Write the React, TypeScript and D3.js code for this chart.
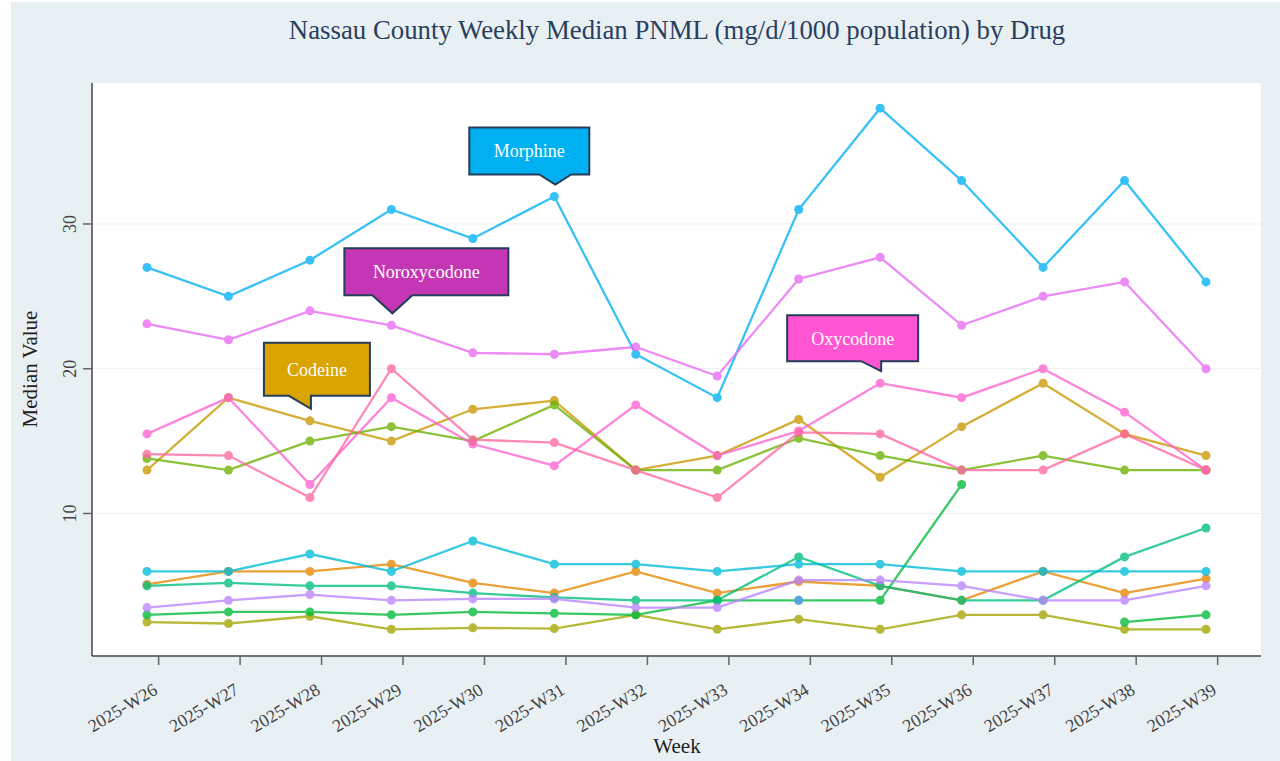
import * as d3 from "d3";

// weeks on the x axis
const WEEKS = [
  "2025-W26", "2025-W27", "2025-W28", "2025-W29", "2025-W30", "2025-W31", "2025-W32",
  "2025-W33", "2025-W34", "2025-W35", "2025-W36", "2025-W37", "2025-W38", "2025-W39",
];

// median PNML per drug, one value per week (null = no sample)
const morphine = [27, 25, 27.5, 31, 29, 31.9, 21, 18, 31, 38, 33, 27, 33, 26];
const noroxycodone = [23.1, 22, 24, 23, 21.1, 21, 21.5, 19.5, 26.2, 27.7, 23, 25, 26, 20];
const oxycodone = [15.5, 18, 12, 18, 14.8, 13.3, 17.5, 14, 15.7, 19, 18, 20, 17, 13];
const oxymorphone = [14.1, 14, 11.1, 20, 15.1, 14.9, 13, 11.1, 15.6, 15.5, 13, 13, 15.5, 13];
const codeine = [13, 18, 16.4, 15, 17.2, 17.8, 13, 14, 16.5, 12.5, 16, 19, 15.5, 14];
const hydrocodone = [13.8, 13, 15, 16, 15, 17.5, 13, 13, 15.2, 14, 13, 14, 13, 13];
const tramadol = [6, 6, 7.2, 6, 8.1, 6.5, 6.5, 6, 6.5, 6.5, 6, 6, 6, 6];
const hydromorphone = [5.1, 6, 6, 6.5, 5.2, 4.5, 6, 4.5, 5.3, 5, 4, 6, 4.5, 5.5];
const methadone = [5, 5.2, 5, 5, 4.5, 4.2, 4, 4, 7, 5, 4, 4, 7, 9];
const fentanyl = [3.5, 4, 4.4, 4, 4.1, 4.1, 3.5, 3.5, 5.4, 5.4, 5, 4, 4, 5];
const norfentanyl = [3, 3.2, 3.2, 3, 3.2, 3.1, 3, 4, 4, 4, 12, null, 2.5, 3];
const buprenorphine = [2.5, 2.4, 2.9, 2, 2.1, 2.05, 3, 2, 2.7, 2, 3, 3, 2, 2];
const tapentadol = [null, null, null, null, null, null, null, null, 4, null, null, null, null, null];

const Y_TICKS = [10, 20, 30];

const SERIES = [
  { name: "Hydromorphone", color: "#E58700", values: hydromorphone },
  { name: "Codeine", color: "#C99800", values: codeine },
  { name: "Buprenorphine", color: "#A3A500", values: buprenorphine },
  { name: "Hydrocodone", color: "#6BB100", values: hydrocodone },
  { name: "Norfentanyl", color: "#00BA38", values: norfentanyl },
  { name: "Methadone", color: "#00BF7D", values: methadone },
  { name: "Tramadol", color: "#00BCD8", values: tramadol },
  { name: "Morphine", color: "#00B0F6", values: morphine },
  { name: "Tapentadol", color: "#619CFF", values: tapentadol },
  { name: "Fentanyl", color: "#B983FF", values: fentanyl },
  { name: "Noroxycodone", color: "#E76BF3", values: noroxycodone },
  { name: "Oxycodone", color: "#FD61D1", values: oxycodone },
  { name: "Oxymorphone", color: "#FF67A4", values: oxymorphone },
];

// callout labels: which drug and week they point at
const CALLOUTS = [
  { label: "Morphine", drug: "Morphine", week: 5, fill: "#00B0F0",
    box: { left: -86, w: 120, h: 47, tail: 10, b0: -16, b1: 16 } },
  { label: "Noroxycodone", drug: "Noroxycodone", week: 3, fill: "#C436B4",
    box: { left: -48, w: 164, h: 47, tail: 18, b0: -20, b1: 20 } },
  { label: "Codeine", drug: "Codeine", week: 2, fill: "#D9A300",
    box: { left: -47, w: 106, h: 53, tail: 13, b0: -22, b1: 0 } },
  { label: "Oxycodone", drug: "Oxycodone", week: 9, fill: "#FF55D2",
    box: { left: -94, w: 131, h: 46, tail: 10, b0: -20, b1: 0 } },
];

const W = 1280;
const H = 761;
const plot = { left: 92, right: 1261, top: 83, bottom: 656 };

export default function App() {
  const x = d3.scaleLinear().domain([-0.675, WEEKS.length - 1 + 0.675]).range([plot.left, plot.right]);
  const y = d3.scaleLinear().domain([0.155, 39.74]).range([plot.bottom, plot.top]);
  const tickOffset = 1 / 7; // week ticks sit one day after the points

  const line = d3
    .line<number | null>()
    .defined((d) => d !== null)
    .x((_, i) => x(i))
    .y((d) => y(d as number));

  const serif = "'Liberation Serif', 'Times New Roman', serif";

  return (
    <svg
      width={W}
      height={H}
      style={{ position: "absolute", left: 0, top: 0, background: "#fff" }}
      fontFamily={serif}
    >
      <rect x={11} y={2} width={W - 11} height={H - 2} fill="#e9f0f3" />
      <rect x={plot.left} y={plot.top} width={plot.right - plot.left} height={plot.bottom - plot.top} fill="#fff" />

      {/* gridlines */}
      {Y_TICKS.map((t) => (
        <line key={t} x1={plot.left} x2={plot.right} y1={y(t)} y2={y(t)} stroke="#ebf0f3" strokeWidth={1} />
      ))}

      {/* title */}
      <text x={677} y={39} textAnchor="middle" fontSize={26.8} fill="#2a3f5f">
        Nassau County Weekly Median PNML (mg/d/1000 population) by Drug
      </text>

      {/* series */}
      {SERIES.map((s) => (
        <g key={s.name} opacity={0.78}>
          <path d={line(s.values) || ""} fill="none" stroke={s.color} strokeWidth={2.3} />
          {s.values.map((v, i) =>
            v === null ? null : <circle key={i} cx={x(i)} cy={y(v)} r={4.5} fill={s.color} />
          )}
        </g>
      ))}

      {/* axes */}
      <line x1={plot.left} x2={plot.left} y1={plot.top} y2={plot.bottom} stroke="#444" strokeWidth={1.5} />
      <line x1={plot.left} x2={plot.right} y1={plot.bottom} y2={plot.bottom} stroke="#444" strokeWidth={1.5} />
      {Y_TICKS.map((t) => (
        <g key={t}>
          <line x1={plot.left - 9} x2={plot.left} y1={y(t)} y2={y(t)} stroke="#666" strokeWidth={1.5} />
          <text
            transform={`translate(76,${y(t)}) rotate(-90)`}
            textAnchor="middle"
            fontSize={18}
            fill="#444"
          >
            {t}
          </text>
        </g>
      ))}
      {WEEKS.map((w, i) => {
        const tx = x(i + tickOffset);
        return (
          <g key={w}>
            <line x1={tx} x2={tx} y1={plot.bottom} y2={plot.bottom + 9} stroke="#666" strokeWidth={1.5} />
            <text
              transform={`translate(${tx},${plot.bottom + 37}) rotate(-31)`}
              textAnchor="end"
              fontSize={18}
              fill="#444"
            >
              {w}
            </text>
          </g>
        );
      })}
      <text x={677} y={753} textAnchor="middle" fontSize={21} fill="#222">
        Week
      </text>
      <text transform={`translate(37,369) rotate(-90)`} textAnchor="middle" fontSize={21} fill="#222">
        Median Value
      </text>

      {/* callouts */}
      {CALLOUTS.map((c) => {
        const s = SERIES.find((d) => d.name === c.drug)!;
        const v = s.values[c.week] as number;
        const tipX = x(c.week) + 1;
        const tipY = y(v) - 12;
        const b = c.box;
        const bottom = tipY - b.tail;
        const top = bottom - b.h;
        const left = tipX + b.left;
        const right = left + b.w;
        const path = [
          `M${left},${top}`,
          `L${right},${top}`,
          `L${right},${bottom}`,
          `L${tipX + b.b1},${bottom}`,
          `L${tipX},${tipY}`,
          `L${tipX + b.b0},${bottom}`,
          `L${left},${bottom}`,
          "Z",
        ].join(" ");
        return (
          <g key={c.label}>
            <path d={path} fill={c.fill} stroke="#253d5b" strokeWidth={2} strokeLinejoin="miter" />
            <text
              x={(left + right) / 2}
              y={(top + bottom) / 2}
              dy="0.35em"
              textAnchor="middle"
              fontSize={18}
              fill="#fff"
            >
              {c.label}
            </text>
          </g>
        );
      })}
    </svg>
  );
}
